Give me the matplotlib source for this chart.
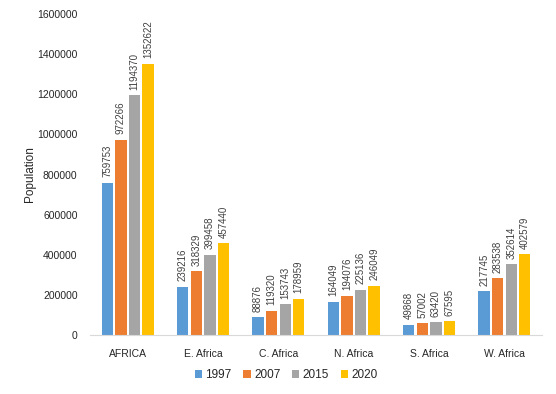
import numpy as np
import matplotlib.pyplot as plt

regions = ['AFRICA', 'E. Africa', 'C. Africa', 'N. Africa', 'S. Africa', 'W. Africa']
years = ['1997', '2007', '2015', '2020']
pop_1997 = [759753, 239216, 88876, 164049, 49868, 217745]
pop_2007 = [972266, 318329, 119320, 194076, 57002, 283538]
pop_2015 = [1194370, 399458, 153743, 225136, 63420, 352614]
pop_2020 = [1352622, 457440, 178959, 246049, 67595, 402579]
colors = ['#5b9bd5', '#ed7d31', '#a5a5a5', '#ffc000']

plt.rcParams['font.family'] = ['Liberation Sans', 'DejaVu Sans']

fig = plt.figure(figsize=(5.56, 3.94), dpi=100)
ax = fig.add_axes([0.162, 0.150, 0.813, 0.814])

x = np.arange(len(regions))
step = 0.18
width = 0.15
for i, (yr, vals) in enumerate(zip(years, [pop_1997, pop_2007, pop_2015, pop_2020])):
    bars = ax.bar(x + (i - 1.5) * step, vals, width, color=colors[i], label=yr)
    ax.bar_label(bars, labels=[str(v) for v in vals], rotation=90, padding=4,
                 fontsize=7, color='#404040')

ax.set_xlim(-0.5, len(regions) - 0.5)
ax.set_ylim(0, 1600000)
ax.set_yticks(np.arange(0, 1600001, 200000))
ax.set_yticklabels([str(v) for v in range(0, 1600001, 200000)])
ax.set_xticks(x)
ax.set_xticklabels(regions)
ax.tick_params(axis='both', length=0, labelsize=7.5, colors='#262626')
ax.tick_params(axis='x', pad=10)
ax.tick_params(axis='y', pad=9)
ax.set_ylabel('Population', fontsize=8.5, color='#262626', labelpad=1)

for s in ['top', 'right', 'left']:
    ax.spines[s].set_visible(False)
ax.spines['bottom'].set_color('#d9d9d9')

fig.legend(loc='center', bbox_to_anchor=(0.515, 0.048), ncol=4, frameon=False,
           fontsize=8.5, handlelength=0.6, handleheight=0.6, handletextpad=0.3,
           columnspacing=1.0, labelcolor='#262626')

fig.savefig('out.png', dpi=100)
